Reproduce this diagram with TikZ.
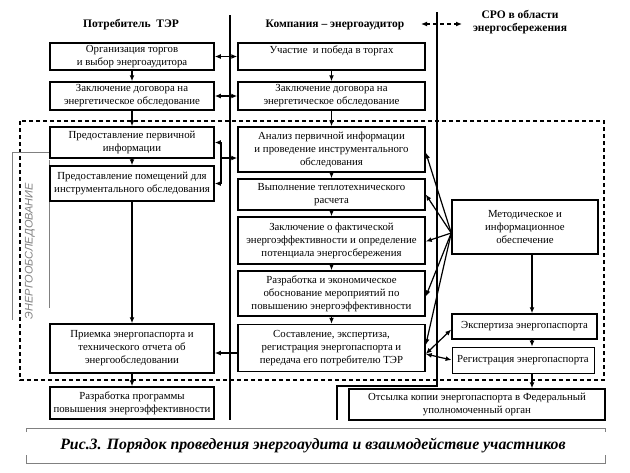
\documentclass[tikz,border=0pt]{standalone}
\usepackage{fontspec}
\setmainfont{Liberation Serif}
\setsansfont{Liberation Sans}
\usetikzlibrary{arrows.meta}
\begin{document}
\begin{tikzpicture}[x=1pt,y=-1pt,
	blk/.style={draw,line width=1.5pt,align=center,inner sep=1pt,font=\fontsize{10.8}{13}\selectfont},
	lft/.style={blk,minimum width=164pt},
	mid/.style={blk,minimum width=187pt},
	hdr/.style={align=center,font=\bfseries\fontsize{11.5}{13}\selectfont},
	con/.style={line width=1.2pt},
	>={Latex[length=6pt,width=5pt]}]
\useasboundingbox (0,0) rectangle (630,472);
% headers
\node[hdr] (h1) at (131,25) {Потребитель~ ТЭР};
\node[hdr] (h2) at (335,25) {Компания – энергоаудитор};
\node[hdr] (h3) at (520,22) {СРО в области\\энергосбережения};
\coordinate (da) at (421,24);
\coordinate (db) at (462,24);
\draw[con,dash pattern=on 4pt off 3pt,<->] (da) -- (db);
% dividers
\draw[line width=1.5pt] (230,15) -- (230,420);
\draw[line width=1.5pt] (437,12) -- (437,386) -- (337,386) -- (337,420);
% energy audit frame
\draw[line width=1.5pt,dash pattern=on 4pt off 3pt] (20,121) rectangle (604,380);
\draw[gray,line width=0.6pt] (12,320) -- (12,152) -- (50,152);
\draw[gray,line width=0.6pt] (49,160) -- (49,308);
\node[rotate=90,text=gray,font=\sffamily\itshape\fontsize{11}{11}\selectfont] (eo) at (30,251) {ЭНЕРГООБСЛЕДОВАНИЕ};
% consumer
\node[lft,minimum height=27pt] (org) at (132,56.5) {Организация торгов\\и выбор энергоаудитора};
\node[lft,minimum height=28pt] (dog) at (132,96) {Заключение договора на\\энергетическое обследование};
\node[lft,minimum height=31pt] (prv) at (132,142.5) {Предоставление первичной\\информации};
\node[lft,minimum height=35pt] (pom) at (132,183.5) {Предоставление помещений для\\инструментального обследования};
\node[lft,minimum height=49pt] (priem) at (132,348.5) {Приемка энергопаспорта и\\технического отчета об\\энергообследовании};
\node[lft,minimum height=32pt] (razr) at (132,403) {Разработка программы\\повышения энергоэффективности};
% auditor
\node[mid,minimum height=27pt] (uch) at (331.5,56.5) {Участие~ и победа в торгах\\~};
\node[mid,minimum height=28pt] (zak) at (331.5,96) {Заключение договора на\\энергетическое обследование};
\node[mid,minimum height=45pt] (ana) at (331.5,149.5) {Анализ первичной информации\\и проведение инструментального\\обследования};
\node[mid,minimum height=31pt] (vyp) at (331.5,194.5) {Выполнение теплотехнического\\расчета};
\node[mid,minimum height=47pt] (zakl) at (331.5,240.5) {Заключение о фактической\\энергоэффективности и определение\\потенциала энергосбережения};
\node[mid,minimum height=45pt] (razm) at (331.5,293.5) {Разработка и экономическое\\обоснование мероприятий по\\повышению энергоэффективности};
\node[mid,minimum height=47pt] (sost) at (331.5,348) {Составление, экспертиза,\\регистрация энергопаспорта и\\передача его потребителю ТЭР};
% SRO
\node[blk,minimum width=146pt,minimum height=54pt] (met) at (525,227) {Методическое и\\информационное\\обеспечение};
\node[blk,minimum width=145pt,minimum height=25pt] (eksp) at (524.5,326.5) {Экспертиза энергопаспорта};
\node[blk,line width=0.8pt,minimum width=142pt,minimum height=26pt] (reg) at (523,360) {Регистрация энергопаспорта};
\node[blk,minimum width=256pt,minimum height=31pt] (ots) at (477,404.5) {Отсылка копии энергопаспорта в Федеральный\\уполномоченный орган};
% caption
\draw[gray,line width=0.8pt] (26,432) -- (26,428) -- (605,428) -- (605,432);
\draw[gray,line width=0.8pt] (26,455) -- (26,463) -- (605,463) -- (605,455);
\node[font=\bfseries\itshape\fontsize{15.8}{18}\selectfont] (cap) at (313,446) {Рис.3. Порядок проведения энергоаудита и взаимодействие участников};
% connectors
\foreach \a/\b in {org/dog,dog/prv,prv/pom,pom/priem,priem/razr,uch/zak,zak/ana,ana/vyp,vyp/zakl,zakl/razm,razm/sost}
	\draw[con,->] (\a) -- (\b);
\draw[con,<->] (org) -- (uch);
\draw[con,<->] (dog) -- (zak);
\coordinate (br) at (221,158);
\draw[con,<->] (prv.east) -- (prv.east -| br) -- (pom.east -| br) -- (pom.east);
\draw[con,->] (br) -- (br -| ana.west);
\draw[con,->] ([yshift=-5pt]sost.west) -- ([yshift=-5pt]sost.west -| priem.east);
\coordinate (fan) at ([yshift=-6pt]met.west);
\foreach \t/\s in {ana/-3,vyp/0,zakl/-1,razm/-3,sost/3}
	\draw[con,->] (fan) -- ([yshift=\s pt]\t.east);
\coordinate (sx) at ([yshift=-6pt]sost.east);
\draw[con,<->] (sx) -- ([yshift=-3pt]eksp.west);
\draw[con,<->] (sx) -- (reg.west);
\coordinate (ax) at (532,0);
\draw[con,->] (met.south -| ax) -- (eksp.north -| ax);
\draw[con,->] (eksp.south -| ax) -- (reg.north -| ax);
\draw[con,->] (reg.south -| ax) -- (ots.north -| ax);
\end{tikzpicture}
\end{document}
